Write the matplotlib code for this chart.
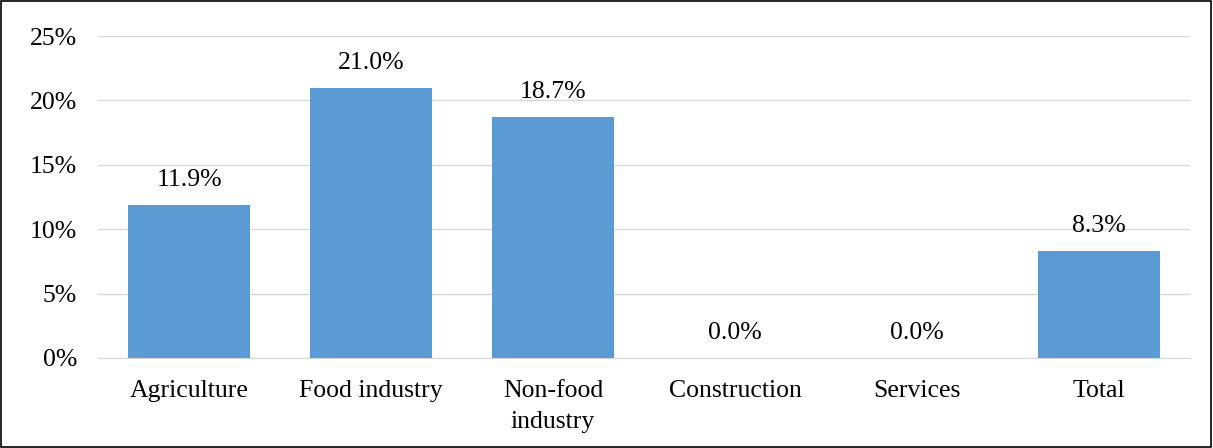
import matplotlib.pyplot as plt
from matplotlib.patches import Rectangle

plt.rcParams['font.family'] = ['Liberation Serif', 'DejaVu Serif']

categories = ["Agriculture", "Food industry", "Non-food\nindustry", "Construction", "Services", "Total"]
values = [11.9, 21.0, 18.7, 0.0, 0.0, 8.3]
yticks = [0, 5, 10, 15, 20, 25]

fs = 18.5

fig = plt.figure(figsize=(12.13, 4.48), dpi=100)
ax = fig.add_axes([0.0808, 0.2009, 0.9002, 0.7187])

x = range(len(categories))
ax.bar(x, values, width=0.67, color="#5B9BD5", zorder=3)
for i, v in zip(x, values):
    ax.annotate(f"{v:.1f}%", (i, v), xytext=(0, 10), textcoords="offset points",
                ha="center", va="bottom", fontsize=fs)

ax.set_xlim(-0.5, len(categories) - 0.5)
ax.set_ylim(0, 25)
ax.set_yticks(yticks)
ax.set_yticklabels([f"{t}%" for t in yticks], fontsize=fs)
ax.set_xticks(list(x))
ax.set_xticklabels(categories, fontsize=fs, linespacing=1.5)
ax.grid(axis="y", color="#D9D9D9", linewidth=1, zorder=0)
ax.tick_params(axis="x", length=0, pad=16)
ax.tick_params(axis="y", length=0, pad=15)
for s in ["top", "right", "left"]:
    ax.spines[s].set_visible(False)
ax.spines["bottom"].set_color("#D9D9D9")

fig.patches.append(Rectangle((0.001, 0.003), 0.997, 0.994, transform=fig.transFigure,
                             fill=False, edgecolor="black", linewidth=1.2))

fig.savefig("out.png", dpi=100)
